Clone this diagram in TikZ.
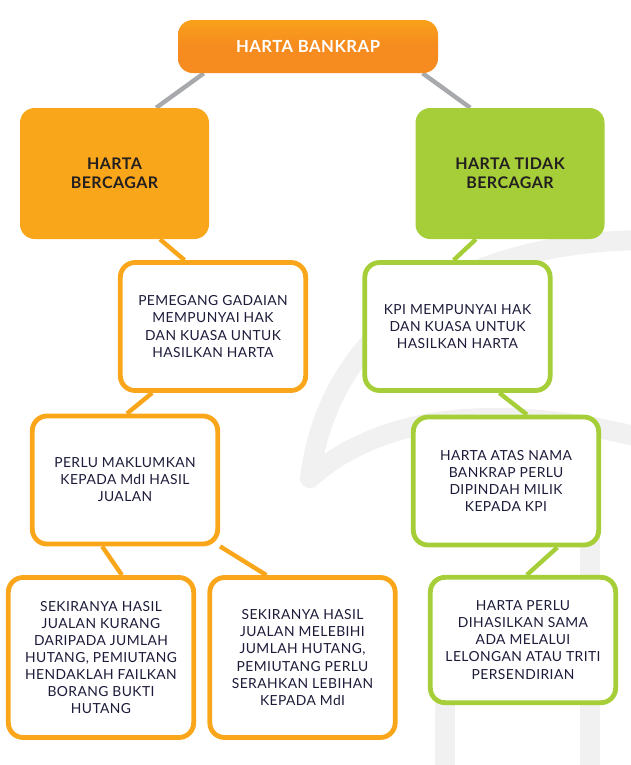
\documentclass[tikz,border=0pt]{standalone}
\usepackage{fontspec}
\setmainfont{Lato}[LetterSpace=3]
\usetikzlibrary{calc,backgrounds}
\definecolor{hbOrange}{HTML}{F68B1F}
\definecolor{hbAmber}{HTML}{FAA61A}
\definecolor{hbGreen}{HTML}{A6CE39}
\definecolor{hbGrey}{HTML}{A7A9AC}
\definecolor{hbInk}{HTML}{1C1B3A}
\definecolor{hbDark}{HTML}{231F20}
\definecolor{hbMark}{HTML}{F1F1F2}
\tikzset{
  title/.style = {rounded corners=11pt, inner sep=0pt, minimum width=195pt,
                  minimum height=39.75pt, top color=hbAmber!80!hbOrange,
                  bottom color=hbOrange, middle color=hbOrange, text=white,
                  font=\fontsize{12.5}{15}\selectfont\bfseries},
  head/.style  = {rounded corners=11pt, inner sep=0pt, minimum width=141.75pt,
                  minimum height=98.25pt, align=center, text=hbDark,
                  font=\fontsize{12}{14.3}\selectfont\bfseries},
  card/.style  = {draw, line width=3.6pt, fill=white, rounded corners=11pt,
                  inner sep=0pt, minimum width=139pt, minimum height=96pt,
                  align=center, text=hbInk, font=\fontsize{10.4}{12.8}\selectfont},
  tall/.style  = {minimum height=120pt},
  link/.style  = {line width=3.3pt},
  wmark/.style = {hbMark, line width=15pt, line cap=round, line join=round},
}

\begin{document}
\begin{tikzpicture}[x=0.75pt,y=-0.75pt]
  \useasboundingbox (0,0) rectangle (631,765);
  % top
  \node[title] (top) at (308,46.5) {HARTA BANKRAP};
  % two kinds
  \node[head, fill=hbAmber] (bcg) at (114.5,173.5) {HARTA\\BERCAGAR};
  \node[head, fill=hbGreen] (tbcg) at (510,173.5) {HARTA TIDAK\\BERCAGAR};
  % secured side
  \node[card, draw=hbAmber] (gadai) at (213,326.5)
    {PEMEGANG GADAIAN\\MEMPUNYAI HAK\\DAN KUASA UNTUK\\HASILKAN HARTA};
  \node[card, draw=hbAmber] (maklum) at (125,480)
    {PERLU MAKLUMKAN\\KEPADA MdI HASIL\\JUALAN};
  \node[card, tall, draw=hbAmber] (kurang) at (101,657.5)
    {SEKIRANYA HASIL\\JUALAN KURANG\\DARIPADA JUMLAH\\HUTANG, PEMIUTANG\\HENDAKLAH FAILKAN\\BORANG BUKTI\\HUTANG};
  \node[card, tall, draw=hbAmber] (lebih) at (302.5,657.5)
    {SEKIRANYA HASIL\\JUALAN MELEBIHI\\JUMLAH HUTANG,\\PEMIUTANG PERLU\\SERAHKAN LEBIHAN\\KEPADA MdI};
  % unsecured side
  \node[card, draw=hbGreen] (kpi) at (457.5,326.5)
    {KPI MEMPUNYAI HAK\\DAN KUASA UNTUK\\HASILKAN HARTA};
  \node[card, draw=hbGreen] (milik) at (506,481)
    {HARTA ATAS NAMA\\BANKRAP PERLU\\DIPINDAH MILIK\\KEPADA KPI};
  \node[card, draw=hbGreen, minimum height=94pt] (lelong) at (523,640)
    {HARTA PERLU\\DIHASILKAN SAMA\\ADA MELALUI\\LELONGAN ATAU TRITI\\PERSENDIRIAN};

  \begin{scope}[on background layer]
    % watermark
    \begin{scope}
      \clip (0,0) rectangle (631,765);
      \draw[wmark] (650,240) .. controls (470,240) and (330,320) .. (310,478)
                   .. controls (380,415) and (500,400) .. (650,440);
      \draw[wmark] (590,440) -- (590,800);
      \draw[wmark] (445,660) -- (445,800);
    \end{scope}
    % links
    \draw[link, hbGrey] ($(top.south west)!0.1!(top.south east)$) -- ($(bcg.north west)!0.72!(bcg.north east)$);
    \draw[link, hbGrey] ($(top.south west)!0.94!(top.south east)$) -- ($(tbcg.north west)!0.29!(tbcg.north east)$);
    \draw[link, hbAmber] ($(bcg.south west)!0.74!(bcg.south east)$) -- ($(gadai.north west)!0.35!(gadai.north east)$);
    \draw[link, hbAmber] ($(gadai.south west)!0.18!(gadai.south east)$) -- ($(maklum.north west)!0.51!(maklum.north east)$);
    \draw[link, hbAmber] ($(maklum.south west)!0.38!(maklum.south east)$) -- ($(kurang.north west)!0.61!(kurang.north east)$);
    \draw[link, hbAmber] (maklum.south east) -- ($(lebih.north west)!0.31!(lebih.north east)$);
    \draw[link, hbGreen] ($(tbcg.south west)!0.32!(tbcg.south east)$) -- ($(kpi.north west)!0.48!(kpi.north east)$);
    \draw[link, hbGreen] ($(kpi.south west)!0.72!(kpi.south east)$) -- ($(milik.north west)!0.61!(milik.north east)$);
    \draw[link, hbGreen] ($(milik.south west)!0.77!(milik.south east)$) -- ($(lelong.north west)!0.52!(lelong.north east)$);
  \end{scope}
\end{tikzpicture}
\end{document}
